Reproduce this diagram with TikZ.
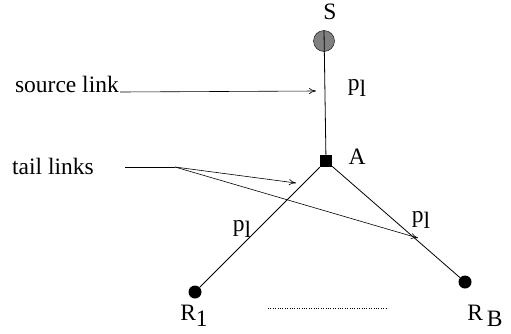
\documentclass[tikz,border=0pt]{standalone}
\usepackage{fontspec}
\setmainfont{Liberation Serif}
\usepackage{tikz}
\usetikzlibrary{arrows.meta,positioning,calc}
\newcommand{\lsub}[2]{#1\raisebox{-0.6ex}{#2}}

\begin{document}
\begin{tikzpicture}[x=1pt,y=-1pt,font=\fontsize{23.5}{28}\selectfont,
   srcnode/.style={circle,draw,fill=gray,minimum size=21pt,inner sep=0pt},
   rtrnode/.style={rectangle,fill=black,minimum size=12pt,inner sep=0pt},
   rcvnode/.style={circle,fill=black,minimum size=13pt,inner sep=0pt},
   link/.style={line width=0.8pt},
   pointer/.style={line width=0.6pt,-{To[length=7pt,width=6pt]}}]
         \useasboundingbox (0,0) rectangle (511,333);
         \node[srcnode] (S) at (324,41) {};
         \node[rtrnode] (A) at (326,161) {};
         \node[rcvnode] (R1) at (195,292) {};
         \node[rcvnode] (RB) at (465,282) {};
         \draw[link] (S.north) -- (A);
         \draw[link] (A) -- (R1);
         \draw[link] (A) -- (RB);
         \node (Slab) at (330,12) {S};
         \node (Alab) at (357,157) {A};
         \node (p1) at (357,88) {\lsub{p}{l}};
         \node (p2) at (242,229) {\lsub{p}{l}};
         \node (p3) at (421,220) {\lsub{p}{l}};
         \node (R1lab) at (194,316) {\lsub{R}{1}};
         \node (RBlab) at (485,316) {\lsub{R}{\,B}};
         \draw[dotted,line width=0.4pt] (268,308) -- (388,308);
         % pointers to the links
         \node[anchor=base east,inner sep=1pt] (srclab) at (120,92) {source link};
         \coordinate (srctip) at (316,91);
         \draw[pointer] (srclab.base east) -- (srctip);
         \node[anchor=base west,inner sep=1pt] (taillab) at (11,174) {tail links};
         \coordinate (tailknee) at (175,167);
         \coordinate (tailtipA) at (296,183);
         \coordinate (tailtipB) at (418,238);
         \draw[line width=0.6pt] (125,167) -- (tailknee);
         \draw[pointer] (tailknee) -- (tailtipA);
         \draw[pointer] (tailknee) -- (tailtipB);
      \end{tikzpicture}
\end{document}
